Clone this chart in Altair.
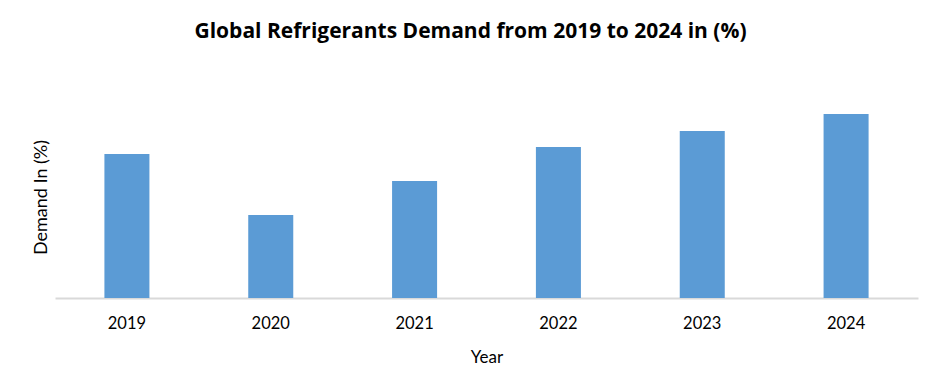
import altair as alt
import pandas as pd

years = ["2019", "2020", "2021", "2022", "2023", "2024"]
demand = [14.4, 8.3, 11.7, 15.1, 16.7, 18.4]

df = pd.DataFrame({"Year": years, "Demand": demand})

FONT = "Lato"

chart = alt.Chart(df).mark_bar(color="#5B9BD5").encode(
    x=alt.X(
        "Year:N",
        sort=years,
        title="Year",
        scale=alt.Scale(paddingInner=0.687, paddingOuter=0.3435),
        axis=alt.Axis(
            labelAngle=0,
            labelFont=FONT,
            labelFontSize=16.5,
            labelColor="#000000",
            labelBaseline="alphabetic",
            labelPadding=30,
            ticks=False,
            tickSize=0,
            domainColor="#D9D9D9",
            domainWidth=2,
            titleFont=FONT,
            titleFontSize=17,
            titleFontWeight="normal",
            titleColor="#000000",
            titleBaseline="alphabetic",
            titlePadding=31,
        ),
    ),
    y=alt.Y(
        "Demand:Q",
        title="Demand In (%)",
        scale=alt.Scale(domain=[0, 20.2], nice=False),
        axis=alt.Axis(
            labels=False,
            ticks=False,
            domain=False,
            grid=False,
            titleFont=FONT,
            titleFontSize=18,
            titleFontWeight="normal",
            titleColor="#000000",
            titlePadding=5,
        ),
    ),
).properties(
    width=863,
    height=202,
    title=alt.TitleParams(
        "Global Refrigerants Demand from 2019 to 2024 in (%)",
        font="Open Sans",
        fontSize=21,
        fontWeight="bold",
        color="#000000",
        anchor="middle",
        baseline="alphabetic",
        offset=37,
        dx=-16,
    ),
    autosize=alt.AutoSizeParams(type="none"),
    padding={"left": 47, "top": 88, "right": 16, "bottom": 74},
).configure_view(stroke=None).configure_axis(grid=False)

chart.save("out.html", embed_options={"renderer": "svg", "actions": False})
